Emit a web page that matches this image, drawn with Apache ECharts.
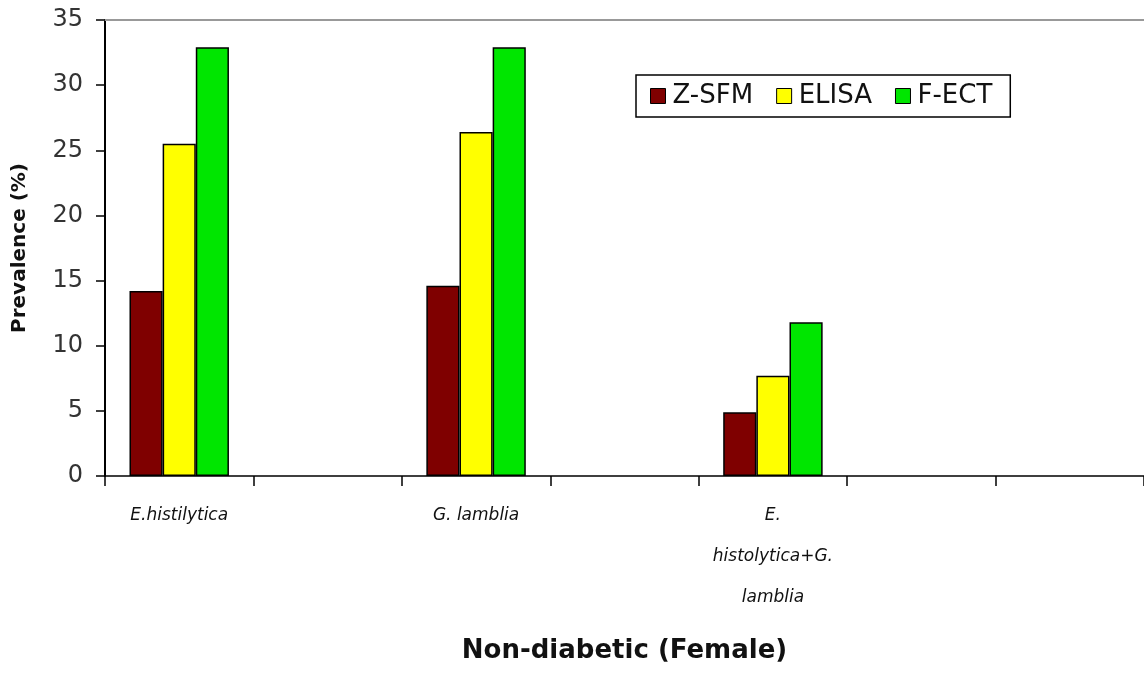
<!DOCTYPE html>
<html>
<head>
<meta charset="utf-8">
<script src="https://cdn.jsdelivr.net/npm/echarts@6/dist/echarts.min.js"></script>
<style>
html,body{margin:0;padding:0;background:#fff;}
#chart{width:1144px;height:677px;}
</style>
</head>
<body>
<div id="chart"></div>
<script>
const categories = ['E.histilytica', '', 'G. lamblia', '', 'E.\nhistolytica+G.\nlamblia', '', ''];
const seriesNames = ['Z-SFM', 'ELISA', 'F-ECT'];
const zsfm  = [14.2, null, 14.6, null, 4.9, null, null];
const elisa = [25.5, null, 26.4, null, 7.7, null, null];
const fect  = [32.9, null, 32.9, null, 11.8, null, null];
const yTicks = [0, 5, 10, 15, 20, 25, 30, 35];
const colors = ['#7f0000', '#ffff00', '#00e600'];

const chart = echarts.init(document.getElementById('chart'), null, {renderer: 'canvas'});
const barStyle = (c) => ({color: c, borderColor: '#000', borderWidth: 1.5});
chart.setOption({
  animation: false,
  backgroundColor: '#fff',
  grid: {left: 105, right: 0, top: 20, bottom: 201, containLabel: false},
  legend: {
    data: seriesNames,
    left: 636, top: 75,
    orient: 'horizontal',
    icon: 'rect',
    itemWidth: 15, itemHeight: 15,
    itemGap: 23,
    padding: [6, 18, 6, 14],
    borderColor: '#000', borderWidth: 1.5,
    itemStyle: {borderColor: '#000', borderWidth: 1},
    textStyle: {fontFamily: 'DejaVu Sans', fontSize: 26, color: '#111', lineHeight: 30, padding: [0, 0, 0, 2]}
  },
  xAxis: [{
    type: 'category',
    data: categories,
    boundaryGap: true,
    axisLine: {show: true, lineStyle: {color: '#000', width: 1.5}},
    axisTick: {show: true, length: 10, interval: 0, lineStyle: {color: '#000', width: 1.5}},
    axisLabel: {interval: 0, margin: 19, fontFamily: 'DejaVu Sans', fontStyle: 'italic', fontSize: 17, color: '#111', lineHeight: 41},
    name: 'Non-diabetic (Female)',
    nameLocation: 'middle',
    nameGap: 162,
    nameTextStyle: {fontFamily: 'DejaVu Sans', fontWeight: 'bold', fontSize: 26, color: '#111'}
  }, {
    type: 'category',
    position: 'top',
    data: categories,
    axisLine: {show: true, lineStyle: {color: '#999', width: 2}},
    axisTick: {show: false},
    axisLabel: {show: false}
  }],
  yAxis: {
    type: 'value',
    min: yTicks[0], max: yTicks[yTicks.length - 1], interval: 5,
    axisLine: {show: true, lineStyle: {color: '#000', width: 2}},
    axisTick: {show: true, length: 9, lineStyle: {color: '#000', width: 1.5}},
    splitLine: {show: false},
    axisLabel: {margin: 22, fontFamily: 'DejaVu Sans', fontSize: 24, color: '#333'},
    name: 'Prevalence (%)',
    nameLocation: 'middle',
    nameGap: 75,
    nameTextStyle: {fontFamily: 'DejaVu Sans', fontWeight: 'bold', fontSize: 20, color: '#111'}
  },
  series: [
    {name: seriesNames[0], type: 'bar', data: zsfm, barGap: '0%', barCategoryGap: '33%', itemStyle: barStyle(colors[0])},
    {name: seriesNames[1], type: 'bar', data: elisa, barGap: '0%', barCategoryGap: '33%', itemStyle: barStyle(colors[1])},
    {name: seriesNames[2], type: 'bar', data: fect, barGap: '0%', barCategoryGap: '33%', itemStyle: barStyle(colors[2])}
  ]
});
</script>
</body>
</html>
